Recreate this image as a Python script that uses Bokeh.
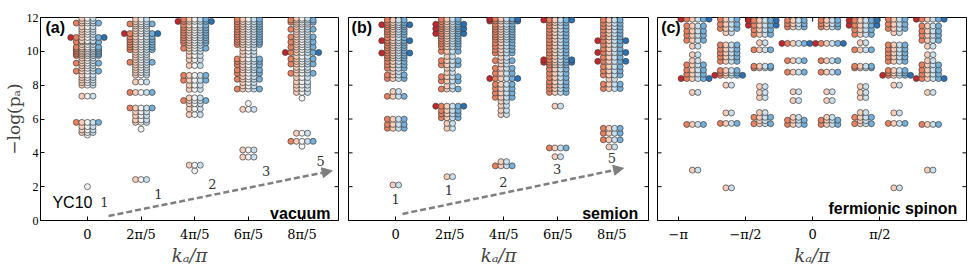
import math
from bokeh.plotting import figure
from bokeh.layouts import row
from bokeh.models import Range1d, FixedTicker, Label, Arrow, NormalHead, ColumnDataSource
from bokeh.embed import file_html
from bokeh.resources import INLINE

# ---------------- data: (level -log p, number of Sz states in the multiplet) ----------------
# (a) vacuum sector, YC10
a_k = [0.0, 0.4, 0.8, 1.2, 1.6]
a_k0 = [(2.0, 1), (5.05, 1), (5.2, 3), (5.35, 3), (5.55, 3), (5.8, 5), (7.35, 3),
        (8.0, 3), (8.15, 3), (8.3, 3), (8.45, 3), (8.6, 3), (8.83, 5), (9.0, 3), (9.15, 3),
        (9.3, 5), (9.45, 3), (9.6, 3), (9.75, 5), (9.85, 5), (9.95, 5), (10.05, 5), (10.15, 5),
        (10.25, 5), (10.4, 3), (10.55, 5), (10.62, 3), (10.82, 7), (11.0, 3), (11.15, 3),
        (11.3, 3), (11.45, 3), (11.67, 5), (11.8, 3), (11.95, 3)]
a_k1 = [(2.42, 3), (5.4, 1), (5.8, 3), (5.95, 3), (6.2, 3), (6.42, 3), (6.65, 5), (7.57, 5),
        (8.19, 3), (8.6, 3), (8.75, 3), (8.9, 3), (9.05, 3), (9.2, 3), (9.35, 5), (9.5, 3),
        (9.65, 3), (9.8, 3), (9.95, 3), (10.1, 5), (10.25, 5), (10.4, 5), (10.55, 5), (10.7, 5),
        (10.85, 5), (11.05, 7), (11.2, 3), (11.35, 3), (11.5, 3), (11.62, 5), (11.75, 3), (11.9, 3)]
a_k2 = [(2.94, 1), (3.27, 3), (6.26, 3), (6.6, 3), (6.9, 3), (7.09, 5), (7.25, 3), (7.75, 3),
        (8.0, 3), (8.29, 5), (8.58, 5), (9.16, 3), (9.5, 3), (9.75, 3), (10.0, 3), (10.18, 5),
        (10.35, 3), (10.5, 5), (10.65, 5), (10.8, 5), (10.95, 5), (11.1, 5), (11.25, 5),
        (11.4, 5), (11.55, 5), (11.77, 7), (11.9, 5)]
a_k3 = [(3.75, 3), (4.17, 3), (6.57, 3), (6.92, 1), (7.77, 5), (7.95, 3), (8.15, 3), (8.35, 5),
        (8.5, 3), (8.7, 5), (8.9, 5), (9.05, 3), (9.2, 5), (9.4, 5), (9.55, 5), (9.8, 3),
        (10.0, 3), (10.2, 3), (10.4, 5), (10.55, 5), (10.7, 5), (10.85, 5), (11.0, 5),
        (11.15, 5), (11.3, 5), (11.45, 5), (11.6, 5), (11.75, 5), (11.9, 5)]
a_k4 = [(4.39, 1), (4.68, 5), (5.16, 3), (7.23, 1), (7.57, 3), (7.8, 3), (8.0, 3), (8.2, 3),
        (8.45, 3), (8.7, 5), (8.9, 3), (9.05, 3), (9.25, 5), (9.4, 3), (9.55, 5), (9.7, 3),
        (9.93, 7), (10.1, 3), (10.25, 5), (10.4, 3), (10.55, 5), (10.7, 3), (10.85, 5),
        (11.0, 3), (11.15, 3), (11.3, 5), (11.45, 3), (11.6, 3), (11.72, 5), (11.85, 5), (11.95, 3)]

# (b) semion sector
b_k = [0.0, 0.4, 0.8, 1.2, 1.6]
b_k0 = [(2.1, 2), (5.45, 4), (5.68, 4), (5.99, 4), (7.34, 4), (7.63, 2), (8.39, 4), (8.6, 4),
        (8.8, 2), (9.0, 4), (9.2, 4), (9.4, 4), (9.6, 4), (9.75, 4), (9.9, 6), (10.05, 4),
        (10.2, 4), (10.35, 4), (10.5, 4), (10.63, 6), (10.8, 4), (11.0, 4), (11.15, 4),
        (11.3, 4), (11.45, 4), (11.57, 6), (11.7, 4), (11.85, 4)]
b_k1 = [(2.59, 2), (5.45, 2), (5.74, 2), (6.07, 4), (6.3, 4), (6.5, 4), (6.76, 6), (7.77, 4),
        (7.95, 2), (8.25, 4), (8.5, 4), (8.75, 2), (9.0, 2), (9.2, 4), (9.45, 4), (9.7, 2),
        (10.0, 4), (10.28, 4), (10.45, 4), (10.6, 4), (10.75, 4), (10.9, 4), (11.05, 6),
        (11.2, 4), (11.34, 6), (11.47, 4), (11.6, 6), (11.75, 4), (11.9, 4)]
b_k2 = [(3.23, 4), (3.48, 2), (6.26, 2), (6.51, 2), (6.8, 2), (7.05, 2), (7.28, 4), (7.54, 4),
        (7.8, 4), (8.05, 4), (8.39, 6), (8.7, 4), (9.0, 4), (9.25, 2), (9.45, 4), (9.65, 2),
        (9.9, 4), (10.1, 4), (10.3, 4), (10.5, 4), (10.7, 4), (10.85, 4), (11.0, 4), (11.15, 4),
        (11.3, 4), (11.45, 4), (11.6, 4), (11.79, 6), (11.92, 6)]
b_k3 = [(3.77, 2), (4.29, 4), (6.76, 2), (7.57, 4), (7.8, 4), (8.0, 4), (8.2, 4), (8.45, 4),
        (8.7, 4), (8.95, 4), (9.2, 4), (9.35, 6), (9.5, 6), (9.7, 4), (9.9, 4), (10.1, 4),
        (10.3, 4), (10.5, 4), (10.7, 4), (10.9, 4), (11.1, 4), (11.3, 4), (11.5, 4), (11.7, 4),
        (11.85, 6)]
b_k4 = [(4.35, 2), (4.77, 4), (5.16, 4), (5.45, 4), (7.8, 4), (8.06, 4), (8.35, 2), (8.6, 4),
        (8.85, 4), (9.1, 4), (9.41, 6), (9.65, 4), (9.93, 6), (10.15, 4), (10.4, 4), (10.63, 6),
        (10.85, 4), (11.05, 4), (11.25, 4), (11.45, 4), (11.65, 4), (11.85, 4)]

# (c) fermionic spinon sector
c_k = [-0.875, -0.625, -0.375, -0.125, 0.125, 0.375, 0.625, 0.875]
c_k0 = [(2.98, 2), (5.68, 4), (7.57, 2), (8.39, 6), (8.65, 4), (8.9, 4), (9.2, 4), (9.45, 2),
        (9.8, 2), (10.3, 2), (10.65, 4), (10.95, 4), (11.2, 4), (11.5, 4), (11.9, 6)]
c_k1 = [(1.93, 2), (5.74, 4), (6.36, 2), (8.0, 2), (8.58, 6), (8.72, 4), (8.87, 4), (9.41, 4),
        (9.67, 4), (9.9, 4), (10.13, 4), (10.38, 4), (11.1, 2), (11.35, 4), (11.6, 4), (11.9, 4)]
c_k2 = [(5.72, 4), (5.9, 2), (6.1, 4), (6.38, 2), (7.27, 2), (7.57, 2), (7.92, 2), (9.02, 4),
        (9.12, 4), (10.09, 4), (10.51, 2), (11.0, 4), (11.28, 4), (11.54, 6), (11.83, 6)]
c_k3 = [(5.68, 4), (5.93, 4), (6.1, 2), (7.09, 2), (7.61, 2), (8.77, 4), (9.45, 4), (10.47, 6),
        (11.44, 4), (11.63, 4), (11.83, 4)]
c_k4 = [(5.68, 4), (5.93, 4), (6.1, 2), (7.09, 2), (7.61, 2), (8.77, 4), (9.45, 4), (10.47, 6),
        (11.44, 4), (11.63, 4), (11.83, 4)]
c_k5 = [(5.72, 4), (5.9, 2), (6.1, 4), (6.38, 2), (7.27, 2), (7.57, 2), (7.92, 2), (9.02, 4),
        (9.12, 4), (10.09, 4), (10.51, 2), (11.0, 4), (11.28, 4), (11.54, 6), (11.83, 6)]
c_k6 = [(1.93, 2), (5.74, 4), (6.36, 2), (8.0, 2), (8.58, 6), (8.72, 4), (8.87, 4), (9.41, 4),
        (9.67, 4), (9.9, 4), (10.13, 4), (10.38, 4), (11.1, 2), (11.35, 4), (11.6, 4), (11.9, 4)]
c_k7 = [(2.98, 2), (5.68, 4), (7.57, 2), (8.39, 6), (8.65, 4), (8.9, 4), (9.2, 4), (9.45, 2),
        (9.8, 2), (10.3, 2), (10.65, 4), (10.95, 4), (11.2, 4), (11.5, 4), (11.9, 6)]

# ticks
ab_tick_vals = [0.0, 0.4, 0.8, 1.2, 1.6]
ab_tick_text = ["0", "2π/5", "4π/5", "6π/5", "8π/5"]
c_tick_vals = [-1.0, -0.5, 0.0, 0.5]
c_tick_text = ["−π", "−π/2", "0", "π/2"]
y_tick_vals = [0, 2, 4, 6, 8, 10, 12]

# level-counting annotations
a_counts = ["1", "1", "2", "3", "5"]
a_count_x = [0.127, 0.529, 0.932, 1.332, 1.739]
a_count_y = [1.10, 1.59, 2.16, 2.94, 3.52]
b_counts = ["1", "1", "2", "3", "5"]
b_count_x = [0.0, 0.394, 0.798, 1.195, 1.601]
b_count_y = [1.29, 1.78, 2.26, 3.03, 3.71]

# ---------------- styling ----------------
PALETTE = ["#c1272d", "#e9805f", "#f9cdb8", "#f2f2f2", "#c9e0ef", "#74b0da", "#2a72b5"]
DX = 0.0415          # horizontal offset per unit of Sz (in k/pi units)
H = 268
SERIF = "DejaVu Serif"
SANS = "Liberation Sans"
YR = (0, 12)


def expand(ks, cols):
    xs, ys, cs = [], [], []
    for k, levels in zip(ks, cols):
        for (e, n) in levels:
            for i in range(n):
                sz = i - (n - 1) / 2
                xs.append(k + sz * DX)
                ys.append(e)
                idx = 0 if sz == 0 else int(math.copysign(math.ceil(abs(sz) - 1e-9), sz))
                cs.append(PALETTE[idx + 3])
    return ColumnDataSource(dict(x=xs, y=ys, c=cs))


def make_panel(width, left, right, xr, ticks, ticktext, ylabels):
    p = figure(width=width, height=H, x_range=Range1d(*xr), y_range=Range1d(*YR),
               output_backend="svg", toolbar_location=None,
               min_border_left=left, min_border_right=right,
               min_border_top=17, min_border_bottom=44)
    p.grid.visible = False
    p.outline_line_color = "black"
    p.outline_line_width = 1
    xa = p.xaxis[0]
    xa.ticker = FixedTicker(ticks=ticks)
    xa.major_label_overrides = {t: s for t, s in zip(ticks, ticktext)}
    xa.major_label_text_font = SERIF
    xa.major_label_text_font_size = "13px"
    xa.major_label_text_color = "black"
    xa.major_label_standoff = 6
    xa.major_tick_in = 4
    xa.major_tick_out = 0
    xa.minor_tick_in = 0
    xa.minor_tick_out = 0
    xa.axis_label = "kₐ/π"
    xa.axis_label_text_font = SERIF
    xa.axis_label_text_font_style = "italic"
    xa.axis_label_text_font_size = "18px"
    xa.axis_label_standoff = 0
    xa.axis_line_color = "black"

    ya = p.yaxis[0]
    if ylabels:
        ya.ticker = FixedTicker(ticks=y_tick_vals)
        ya.minor_tick_in = 0
        ya.minor_tick_out = 0
        ya.axis_line_color = "black"
        ya.major_label_text_font = "Liberation Serif"
        ya.major_label_text_font_size = "12px"
        ya.major_label_text_color = "black"
        ya.major_label_standoff = 2
        ya.major_tick_in = 4
        ya.major_tick_out = 0
        ya.axis_label = "−log(pₐ)"
        ya.axis_label_text_font = SERIF
        ya.axis_label_text_font_style = "normal"
        ya.axis_label_text_font_size = "17px"
        ya.axis_label_standoff = 0
    else:
        ya.visible = False
        # inward ticks on the left edge (marker half is clipped by the frame)
        p.scatter([xr[0]] * len(y_tick_vals), y_tick_vals, marker="dash", size=8,
                  line_color="black", line_width=1)
    # inward ticks on the right and top edges
    p.scatter([xr[1]] * len(y_tick_vals), y_tick_vals, marker="dash", size=8,
              line_color="black", line_width=1)
    p.scatter(ticks, [YR[1]] * len(ticks), marker="dash", angle=math.pi / 2, size=8,
              line_color="black", line_width=1)
    return p


def add_points(p, src):
    p.scatter("x", "y", source=src, size=6, fill_color="c", line_color="#3c3c3c",
              line_width=0.7)


def add_text(p, x, y, text, font, size, style="normal", align="left", baseline="middle",
             color="black"):
    p.add_layout(Label(x=x, y=y, text=text, text_font=font, text_font_size=size,
                       text_font_style=style, text_align=align, text_baseline=baseline,
                       text_color=color))


def add_arrow(p, x0, y0, x1, y1):
    p.add_layout(Arrow(x_start=x0, y_start=y0, x_end=x1, y_end=y1,
                       line_color="#7f7f7f", line_width=2.5, line_dash="6 3",
                       end=NormalHead(size=10, line_color="#7f7f7f", fill_color="#7f7f7f",
                                      line_width=1)))


# panel (a)
pa = make_panel(343, 38, 5, (-0.35, 1.872), ab_tick_vals, ab_tick_text, True)
add_points(pa, expand(a_k, [a_k0, a_k1, a_k2, a_k3, a_k4]))
add_arrow(pa, 0.158, 0.27, 1.825, 2.94)
for t, x, y in zip(a_counts, a_count_x, a_count_y):
    add_text(pa, x, y, t, SERIF, "13px", align="center", color="#333333")
add_text(pa, -0.313, 11.92, "(a)", SANS, "16px", style="bold", baseline="top")
add_text(pa, -0.261, 1.07, "YC10", SANS, "16px")
add_text(pa, 1.813, 0.41, "vacuum", SANS, "16px", style="bold", align="right",
         baseline="alphabetic")

# panel (b)
pb = make_panel(309, 5, 4, (-0.35, 1.872), ab_tick_vals, ab_tick_text, False)
add_points(pb, expand(b_k, [b_k0, b_k1, b_k2, b_k3, b_k4]))
add_arrow(pb, 0.05, 0.39, 1.687, 3.09)
for t, x, y in zip(b_counts, b_count_x, b_count_y):
    add_text(pb, x, y, t, SERIF, "13px", align="center", color="#333333")
add_text(pb, -0.327, 11.92, "(b)", SANS, "16px", style="bold", baseline="top")
add_text(pb, 1.796, 0.41, "semion", SANS, "16px", style="bold", align="right",
         baseline="alphabetic")

# panel (c)
pc = make_panel(317, 5, 3, (-1.155, 1.145), c_tick_vals, c_tick_text, False)
add_points(pc, expand(c_k, [c_k0, c_k1, c_k2, c_k3, c_k4, c_k5, c_k6, c_k7]))
add_text(pc, -1.128, 11.92, "(c)", SANS, "16px", style="bold", baseline="top")
add_text(pc, 1.077, 0.72, "fermionic spinon", SANS, "16px", style="bold", align="right",
         baseline="alphabetic")

layout = row(pa, pb, pc)
open("out.html", "w").write(file_html(layout, INLINE))
